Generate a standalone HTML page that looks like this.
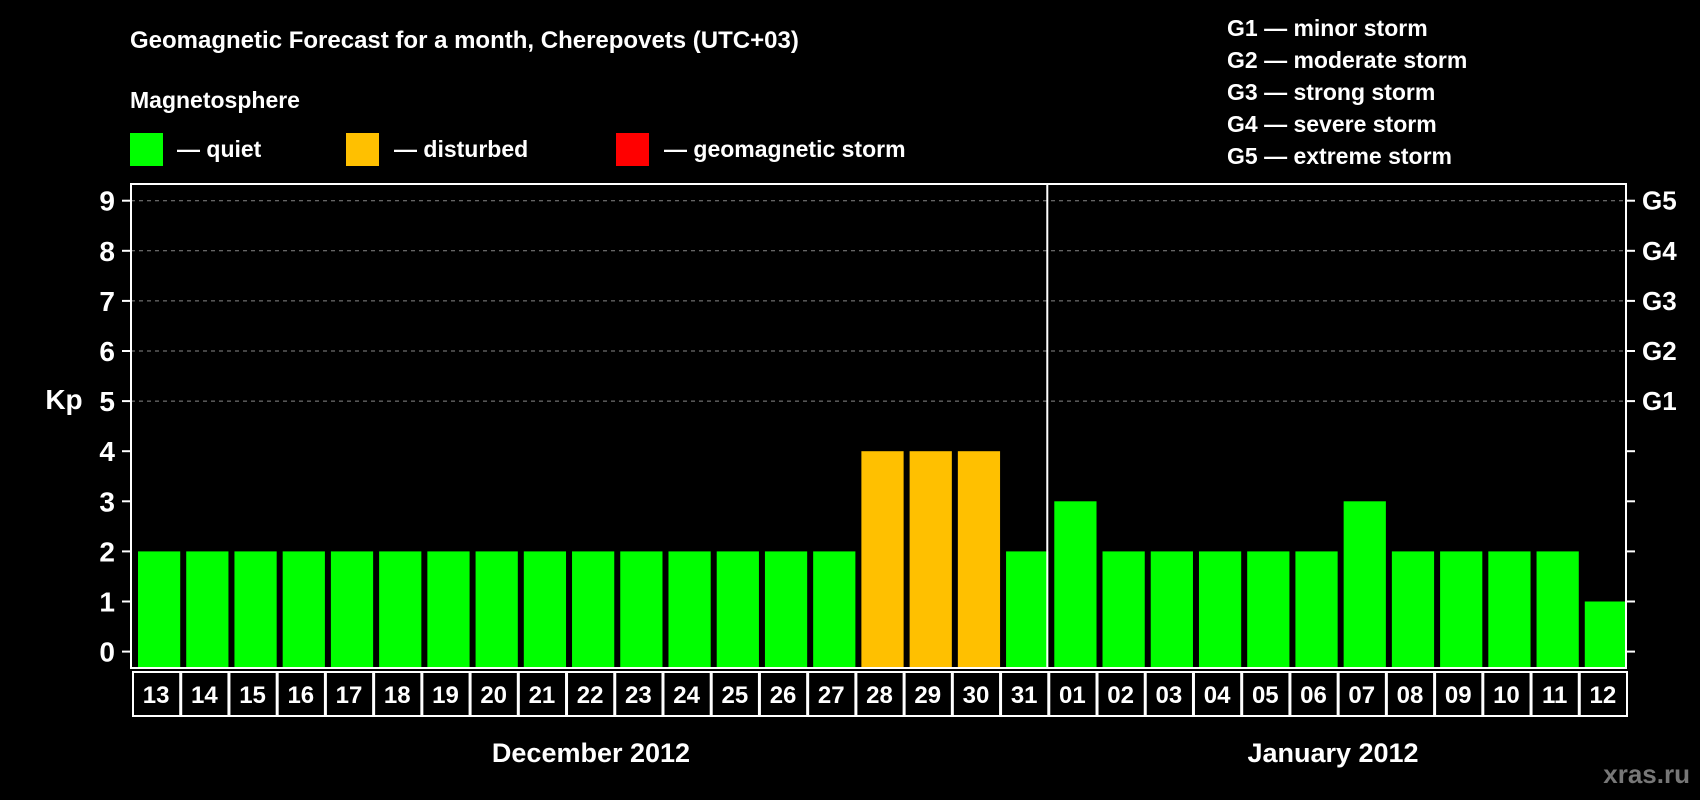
<!DOCTYPE html>
<html><head><meta charset="utf-8"><style>
html,body{margin:0;padding:0;background:#000;}
svg{display:block;font-family:"Liberation Sans",Arial,sans-serif;font-weight:bold;}
</style></head><body>
<svg id="chart" width="1700" height="800" viewBox="0 0 1700 800" xmlns="http://www.w3.org/2000/svg">
<rect x="0" y="0" width="1700" height="800" fill="#000"/>
<text x="130" y="48" fill="#fff" font-size="24">Geomagnetic Forecast for a month, Cherepovets (UTC+03)</text>
<text x="130" y="108" fill="#fff" font-size="23">Magnetosphere</text>
<g><rect x="130" y="133" width="33" height="33" fill="#00ff00"/><text x="177" y="157" fill="#fff" font-size="23">— quiet</text></g>
<g><rect x="346" y="133" width="33" height="33" fill="#ffc000"/><text x="394" y="157" fill="#fff" font-size="23">— disturbed</text></g>
<g><rect x="616" y="133" width="33" height="33" fill="#ff0000"/><text x="664" y="157" fill="#fff" font-size="23">— geomagnetic storm</text></g>
<g fill="#fff" font-size="23">
<text x="1227" y="36">G1 — minor storm</text>
<text x="1227" y="68">G2 — moderate storm</text>
<text x="1227" y="100">G3 — strong storm</text>
<text x="1227" y="132">G4 — severe storm</text>
<text x="1227" y="164">G5 — extreme storm</text>
</g>
<text x="64" y="409" fill="#fff" font-size="28" text-anchor="middle">Kp</text>
<g id="grid"></g>
<g id="bars"></g>
<rect x="131" y="184" width="1495" height="484" fill="none" stroke="#fff" stroke-width="2"/>
<g id="axes"></g>
<text x="591" y="762" fill="#fff" font-size="27" text-anchor="middle">December 2012</text>
<text x="1333" y="762" fill="#fff" font-size="27" text-anchor="middle">January 2012</text>
<text x="1690" y="783" fill="#777" font-size="26" text-anchor="end">xras.ru</text>
</svg>
<script>
const days = ["13","14","15","16","17","18","19","20","21","22","23","24","25","26","27","28","29","30","31","01","02","03","04","05","06","07","08","09","10","11","12"];
const kp = [2,2,2,2,2,2,2,2,2,2,2,2,2,2,2,4,4,4,2,3,2,2,2,2,2,3,2,2,2,2,1];
const yTicks = [0,1,2,3,4,5,6,7,8,9];
const gLabels = ["G1","G2","G3","G4","G5"];
const gLevels = [5,6,7,8,9];
const monthSplitIndex = 19;

const NS = "http://www.w3.org/2000/svg";
const L = 131, R = 1626, T = 184, B = 668;
const pitch = (R - L) / days.length;
function y(v){ return 651.6 - v * 50.1; }
function x(i){ return L + i * pitch; }
function mk(tag, attrs, parent){ const e = document.createElementNS(NS, tag); for (const k in attrs) e.setAttribute(k, attrs[k]); parent.appendChild(e); return e; }
function color(v){ return v >= 5 ? "#ff0000" : (v >= 4 ? "#ffc000" : "#00ff00"); }

const grid = document.getElementById("grid");
const bars = document.getElementById("bars");
const axes = document.getElementById("axes");

gLevels.forEach((lv, i) => {
  const ln = mk("line", {x1: L, x2: R, y1: y(lv), y2: y(lv), stroke: "#888", "stroke-width": 1, "stroke-dasharray": "4,4"}, grid);
  
  
  const t = mk("text", {x: 1642, y: y(lv) + 9, fill: "#fff", "font-size": 26}, axes);
  t.textContent = gLabels[i];
  
  
});

yTicks.forEach(v => {
  const tk = mk("line", {x1: 122, x2: L, y1: y(v), y2: y(v), stroke: "#fff", "stroke-width": 2}, axes);
  
  
  const tk2 = mk("line", {x1: R, x2: 1635, y1: y(v), y2: y(v), stroke: "#fff", "stroke-width": 2}, axes);
  
  
  const t = mk("text", {x: 115, y: y(v) + 10, fill: "#fff", "font-size": 28, "text-anchor": "end"}, axes);
  t.textContent = v;
  
  
});

kp.forEach((v, i) => {
  const r = mk("rect", {x: x(i) + 7, y: y(v), width: pitch - 6, height: B - y(v), fill: color(v)}, bars);
  
  
  const box = mk("rect", {x: x(i) + 2, y: 672, width: pitch - 1, height: 44, fill: "none", stroke: "#fff", "stroke-width": 2}, axes);
  
  
  const t = mk("text", {x: x(i) + pitch / 2 + 1, y: 703, fill: "#fff", "font-size": 24, "text-anchor": "middle"}, axes);
  t.textContent = days[i];
  
  
});

const div = mk("line", {x1: x(monthSplitIndex), x2: x(monthSplitIndex), y1: T, y2: B, stroke: "#fff", "stroke-width": 2}, axes);


</script>
</body></html>
